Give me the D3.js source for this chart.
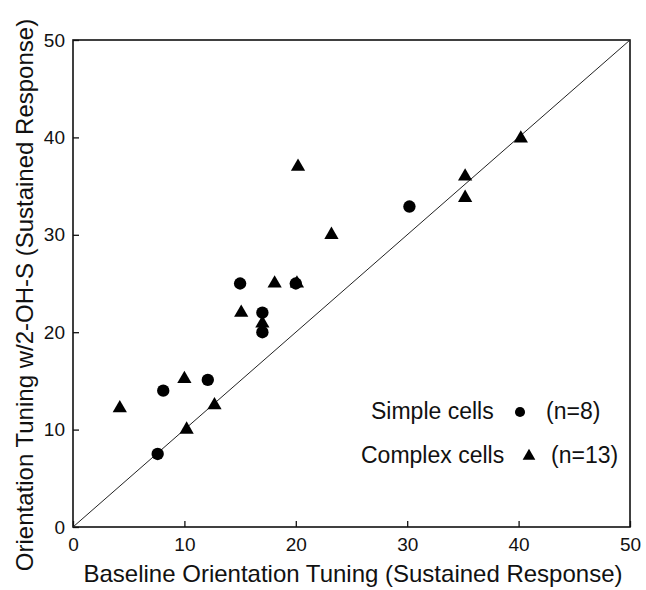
<!DOCTYPE html>
<html>
<head>
<meta charset="utf-8">
<script src="https://cdn.jsdelivr.net/npm/d3@7"></script>
<style>
    html, body { margin: 0; padding: 0; background: #fff; }
    svg { display: block; }
    text { font-family: "Liberation Sans", Arial, Helvetica, sans-serif; fill: #111; }
</style>
</head>
<body>
<svg id="chart" width="646" height="590"></svg>
<script>
(function() {
    'use strict';

    // Simple cells (circles), n=8: [baseline, with 2-OH-S]
    const simpleCells = [
        [7.6, 7.5], [8.1, 14], [12.1, 15.1], [15, 25],
        [17, 22], [17, 20], [20, 25], [30.2, 32.9]
    ];

    // Complex cells (triangles), n=13
    const complexCells = [
        [4.2, 12.2], [10, 15.2], [10.2, 10], [12.7, 12.5],
        [15.1, 22], [17, 20.9], [18.1, 25], [20.1, 25],
        [20.2, 37], [23.2, 30], [35.2, 36], [35.2, 33.8], [40.2, 39.9]
    ];

    const tickValues = [0, 10, 20, 30, 40, 50];
    const unityLine = [[0, 0], [50, 50]];

    const legendItems = [
        { label: 'Simple cells', count: '(n=8)', shape: 'circle' },
        { label: 'Complex cells', count: '(n=13)', shape: 'triangle' }
    ];

    const svg = d3.select('#chart');

    const x = d3.scaleLinear().domain([0, 50]).range([73, 630]);
    const y = d3.scaleLinear().domain([0, 50]).range([527, 40]);

    const circleSym = d3.symbol().type(d3.symbolCircle).size(120);
    const triSym = d3.symbol().type(d3.symbolTriangle).size(88);

    // Frame
    svg.append('rect')
        .attr('x', x(0)).attr('y', y(50))
        .attr('width', x(50) - x(0)).attr('height', y(0) - y(50))
        .attr('fill', 'none').attr('stroke', '#111').attr('stroke-width', 1.6);

    // Axes with inward ticks
    const xAxis = svg.append('g')
        .attr('transform', `translate(0,${y(0)})`)
        .call(d3.axisBottom(x).tickValues(tickValues).tickSize(-6).tickPadding(11));
    const yAxis = svg.append('g')
        .attr('transform', `translate(${x(0)},0)`)
        .call(d3.axisLeft(y).tickValues(tickValues).tickSize(-6).tickPadding(8));

    [xAxis, yAxis].forEach(a => {
        a.select('.domain').remove();
        a.selectAll('line').attr('stroke', '#111').attr('stroke-width', 1.3);
        a.selectAll('text')
            .style('font-family', '"Liberation Sans", Arial, sans-serif')
            .style('font-size', '19px')
            .attr('fill', '#111');
    });

    // Unity line
    svg.append('path')
        .datum(unityLine)
        .attr('d', d3.line().x(d => x(d[0])).y(d => y(d[1])))
        .attr('fill', 'none').attr('stroke', '#222').attr('stroke-width', 1);

    // Points
    svg.append('g').selectAll('path')
        .data(simpleCells)
        .join('path')
        .attr('d', circleSym)
        .attr('transform', d => `translate(${x(d[0])},${y(d[1])})`)
        .attr('fill', '#000');

    svg.append('g').selectAll('path')
        .data(complexCells)
        .join('path')
        .attr('d', triSym)
        .attr('transform', d => `translate(${x(d[0])},${y(d[1])})`)
        .attr('fill', '#000');

    // Legend
    const legend = svg.append('g').selectAll('g')
        .data(legendItems)
        .join('g')
        .attr('transform', (d, i) => `translate(0,${419 + i * 44})`);

    legend.append('text')
        .attr('x', (d, i) => i === 0 ? 371 : 361)
        .style('font-size', '23px')
        .text(d => d.label);

    legend.append('path')
        .attr('d', d => d.shape === 'circle'
            ? d3.symbol().type(d3.symbolCircle).size(80)()
            : d3.symbol().type(d3.symbolTriangle).size(70)())
        .attr('transform', (d, i) => i === 0 ? 'translate(520,-7)' : 'translate(529,-7)')
        .attr('fill', '#000');

    legend.append('text')
        .attr('x', (d, i) => i === 0 ? 546 : 551)
        .style('font-size', '23px')
        .text(d => d.count);

    // Axis titles
    svg.append('text')
        .attr('x', 353)
        .attr('y', 582)
        .attr('text-anchor', 'middle')
        .style('font-size', '24px')
        .text('Baseline Orientation Tuning (Sustained Response)');

    svg.append('text')
        .attr('transform', 'translate(33,295) rotate(-90)')
        .attr('text-anchor', 'middle')
        .style('font-size', '24px')
        .text('Orientation Tuning w/2-OH-S (Sustained Response)');
})();
</script>
</body>
</html>
